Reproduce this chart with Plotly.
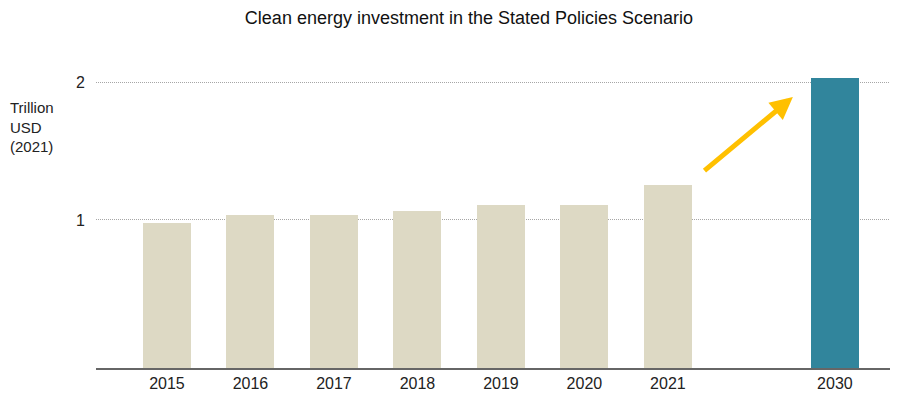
import plotly.graph_objects as go

# Data
years = ["2015", "2016", "2017", "2018", "2019", "2020", "2021", "2030"]
slots = [0, 1, 2, 3, 4, 5, 6, 8]
investment = [0.98, 1.034, 1.034, 1.065, 1.109, 1.109, 1.254, 2.029]
bar_colors = ["#DDD9C4"] * 7 + ["#31859C"]
y_ticks = [1, 2]
y_tick_labels = ["1", "2"]

Y_MIN = -0.075
Y_MAX = 2.307

W, H = 900, 398
L, R, T, B = 96, 10, 40, 30
PW = W - L - R
PH = H - T - B

fig = go.Figure()
fig.add_trace(go.Bar(
    x=slots,
    y=[v - Y_MIN for v in investment],
    base=Y_MIN,
    width=0.575,
    marker=dict(color=bar_colors, line=dict(width=0)),
    hoverinfo="skip",
))

# Arrow pointing towards 2030
fig.add_annotation(
    x=7.497, y=1.893, ax=6.42, ay=1.349,
    xref="x", yref="y", axref="x", ayref="y",
    showarrow=True, arrowhead=2, arrowsize=0.9, arrowwidth=5,
    arrowcolor="#FFC000", text="",
)

# Y-axis title
fig.add_annotation(
    text="Trillion<br>USD<br>(2021)",
    xref="paper", yref="paper",
    x=-(L - 8) / PW, y=1 - (97 - T) / PH,
    xanchor="left", yanchor="top", align="left",
    showarrow=False,
    font=dict(family="Liberation Sans, Arial", size=15, color="#222"),
)

fig.update_layout(
    width=W, height=H,
    margin=dict(l=L, r=R, t=T, b=B, autoexpand=False),
    paper_bgcolor="white", plot_bgcolor="white",
    showlegend=False,
    bargap=0,
    font=dict(family="Liberation Sans, Arial", size=16, color="#222"),
    title=dict(
        text="Clean energy investment in the Stated Policies Scenario",
        x=(469 - L) / PW, xref="paper", xanchor="center",
        y=1 - 18 / H, yref="container", yanchor="middle",
        font=dict(size=18, color="#111"),
    ),
    xaxis=dict(
        range=[-0.85, 8.66], automargin=False,
        tickmode="array", tickvals=slots, ticktext=years,
        showgrid=False, zeroline=False,
        showline=True, linecolor="#666", linewidth=2,
        ticks="", ticklabelstandoff=0, tickfont=dict(size=16, color="#222"),
    ),
    yaxis=dict(
        range=[Y_MIN, Y_MAX], automargin=False,
        tickmode="array", tickvals=y_ticks, ticktext=y_tick_labels,
        showgrid=True, gridcolor="#a6a6a6", gridwidth=1, griddash="1px,1px",
        zeroline=False, showline=False,
        ticks="", ticklabelstandoff=10,
        tickfont=dict(size=16, color="#222"),
    ),
)

fig.write_html(
    "out.html",
    config={"displayModeBar": False},
    post_script="document.body.style.margin='0';document.body.style.overflow='hidden';",
)
